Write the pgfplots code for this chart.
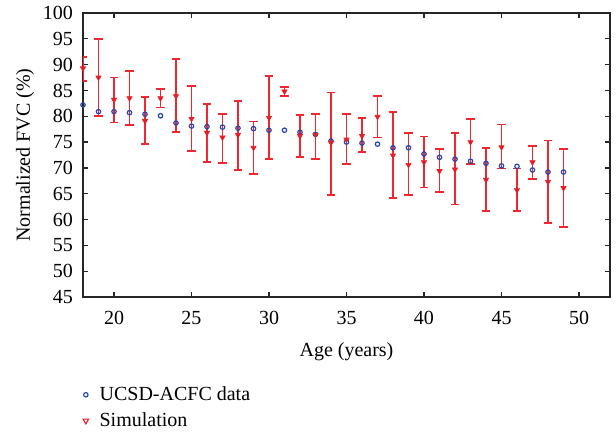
\documentclass[border=0pt]{standalone}
\usepackage{fontspec}
\setmainfont{Liberation Serif}
\usepackage{pgfplots}
\pgfplotsset{compat=1.18}
\usepackage{pgfplotstable}
\usetikzlibrary{calc}
\definecolor{dblue}{RGB}{40,70,170}
\definecolor{sred}{RGB}{232,28,36}
\definecolor{ebred}{RGB}{238,40,46}

\pgfplotstableread{
age fvc
18 82.2
19 80.9
20 80.9
21 80.7
22 80.4
23 80.1
24 78.7
25 78.1
26 78.0
27 77.9
28 77.7
29 77.6
30 77.3
31 77.3
32 76.9
33 76.5
34 75.2
35 75.0
36 74.8
37 74.6
38 73.9
39 73.9
40 72.7
41 72.05
42 71.7
43 71.3
44 70.9
45 70.4
46 70.3
47 69.6
48 69.2
49 69.2
}\ucsd

% age, value, top of bar, bottom of bar
\pgfplotstableread{
age sim top bot
18 89.3 91.5 86.9
19 87.5 94.9 80.1
20 83.2 87.5 78.8
21 83.5 88.8 78.3
22 79.1 83.8 74.6
23 83.5 85.3 81.7
24 83.9 91.1 77.0
25 79.5 85.9 73.3
26 76.8 82.4 71.2
27 75.9 80.4 71.0
28 76.4 83.0 69.6
29 73.9 79.0 68.8
30 79.7 87.8 71.7
31 84.8 85.7 83.9
32 76.2 80.2 72.1
33 76.4 80.5 71.7
34 74.9 84.6 64.7
35 75.5 80.5 70.8
36 76.2 79.6 73.1
37 79.9 84.0 75.9
38 72.4 80.8 64.1
39 70.6 76.8 64.7
40 71.1 76.1 66.2
41 69.4 73.7 65.4
42 69.7 76.8 62.9
43 75.0 79.5 70.8
44 67.7 73.9 61.7
45 74.0 78.4 69.9
46 65.7 69.9 61.7
47 71.1 74.3 67.9
48 67.3 75.3 59.4
49 66.1 73.6 58.6
}\simtab
\pgfplotstablecreatecol[create col/expr={\thisrow{top}-\thisrow{sim}}]{ep}{\simtab}
\pgfplotstablecreatecol[create col/expr={\thisrow{sim}-\thisrow{bot}}]{em}{\simtab}

\begin{document}
\begin{tikzpicture}
\begin{axis}[
  scale only axis,
  width=263.5pt, height=142pt,
  xmin=18, xmax=52, ymin=45, ymax=100,
  xtick={20,25,...,50}, ytick={45,50,...,100},
  tick align=inside,
  major tick length=2.5pt,
  axis line style={line width=0.6pt, black!85},
  every tick/.style={line width=0.6pt, black!85},
  /pgf/number format/assume math mode=true,
  xticklabel style={yshift=-3.5pt},
  yticklabel style={xshift=-1.5pt},
  xlabel={Age (years)},
  ylabel={Normalized FVC (\%)},
  xlabel style={at={(axis description cs:0.5,-0.194)}, anchor=center},
  ylabel style={at={(axis description cs:-0.110,0.5)}, anchor=center},
  legend style={at={(axis description cs:-0.012,-0.285)}, anchor=north west,
    draw=none, fill=none, row sep=0.5pt, font=\normalsize,
    /tikz/every odd column/.style={column sep=3.5pt}},
  legend cell align=left,
]
\addplot[only marks, mark=o, dblue, mark size=1.1pt, line width=0.6pt, forget plot]
  table[x=age, y=fvc] {\ucsd};
\addplot[only marks, mark=triangle*, sred, mark size=1.5pt,
  mark options={rotate=180, fill=sred, draw=sred, line width=0.3pt}, forget plot,
  error bars/.cd, y dir=both, y explicit,
  error bar style={line width=0.9pt, draw=ebred},
  error mark options={rotate=90, mark size=2.1pt, line width=0.9pt, draw=ebred}]
  table[x=age, y=sim, y error plus=ep, y error minus=em] {\simtab};
\addlegendimage{only marks, mark=o, dblue, mark size=1.1pt, line width=0.6pt}
\addlegendentry{UCSD-ACFC data}
\addlegendimage{only marks, mark=triangle, sred, mark size=1.6pt, line width=0.55pt, mark options={rotate=180}}
\addlegendentry{Simulation}
\end{axis}
\pgfresetboundingbox
\path ($(current axis.south west)+(-41.5pt,-68pt)$) rectangle ($(current axis.north east)+(3pt,6.5pt)$);
\end{tikzpicture}
\end{document}
